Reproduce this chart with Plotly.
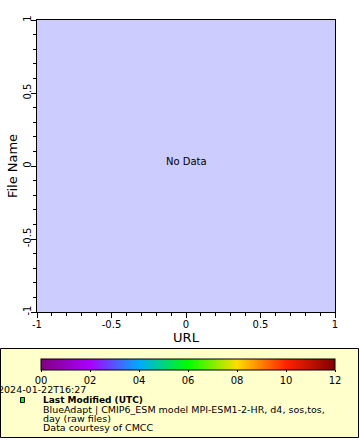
import plotly.graph_objects as go

# ---- data ----
x_range = [-1, 1]
y_range = [-1, 1]
axis_ticks = [-1, -0.5, 0, 0.5, 1]
axis_tick_labels = ["-1", "-0.5", "0", "0.5", "1"]
color_min, color_max = 0, 12
color_ticks = [0, 2, 4, 6, 8, 10, 12]
color_tick_labels = ["00", "02", "04", "06", "08", "10", "12"]
palette_stops = [0, 2, 4, 6, 8, 10, 12]
palette_colors = ["#800080", "#aa00ff", "#00aaff", "#00ff00", "#ffdd00", "#ff2200", "#800000"]
x_title = "URL"
y_title = "File Name"
no_data_text = "No Data"
date_text = "2024-01-22T16:27"
legend_title = "Last Modified (UTC)"
legend_lines = ["BlueAdapt | CMIP6_ESM model MPI-ESM1-2-HR, d4, sos,tos,",
                "day (raw files)",
                "Data courtesy of CMCC"]

W, H = 360, 440
FONT = "DejaVu Sans"

def px(x):
    return x / W

def py(y):
    return 1 - y / H

colorscale = [[(s - color_min) / (color_max - color_min), c] for s, c in zip(palette_stops, palette_colors)]

fig = go.Figure()
fig.add_trace(go.Scatter(
    x=[None], y=[None], mode="markers", showlegend=False, hoverinfo="skip",
    marker=dict(color=[color_min], colorscale=colorscale, cmin=color_min, cmax=color_max,
                showscale=True,
                colorbar=dict(orientation="h", x=px(41), xanchor="left", y=py(358.5), yanchor="top",
                              lenmode="pixels", len=294, thickness=11, thicknessmode="pixels",
                              xpad=0, ypad=0, outlinewidth=1, outlinecolor="black",
                              tickvals=color_ticks, ticktext=color_tick_labels,
                              ticks="outside", ticklen=2, tickcolor="black",
                              tickfont=dict(family=FONT, size=10, color="black"))),
))

fig.update_layout(
    width=W, height=H, margin=dict(l=0, r=0, t=0, b=0, autoexpand=False),
    paper_bgcolor="white", plot_bgcolor="#ccccff",
    font=dict(family=FONT, size=10, color="black"),
    xaxis=dict(domain=[px(37), px(335)], range=x_range, tickvals=axis_ticks, ticktext=axis_tick_labels,
               ticks="outside", ticklen=5, tickcolor="black", showgrid=False, zeroline=False,
               showline=True, linecolor="black", linewidth=1, mirror=True,
               minor=dict(dtick=0.1, ticks="outside", ticklen=3, tickcolor="black", showgrid=False),
               tickfont=dict(family=FONT, size=10), ticklabelstandoff=-2,
               title=dict(text=x_title, font=dict(family=FONT, size=13), standoff=3)),
    yaxis=dict(domain=[py(312), py(20)], range=y_range, tickvals=axis_ticks, ticktext=axis_tick_labels,
               ticks="outside", ticklen=5, tickcolor="black", showgrid=False, zeroline=False,
               showline=True, linecolor="black", linewidth=1, mirror=True, tickangle=-90,
               minor=dict(dtick=0.1, ticks="outside", ticklen=3, tickcolor="black", showgrid=False),
               tickfont=dict(family=FONT, size=10), ticklabelstandoff=-4,
               title=dict(text=y_title, font=dict(family=FONT, size=13), standoff=1)),
)

# legend box
fig.add_shape(type="rect", xref="paper", yref="paper", x0=px(0.5), x1=px(358.5), y0=py(437.5), y1=py(348.5),
              fillcolor="#ffffcc", line=dict(color="black", width=1), layer="below")
# green marker square
fig.add_shape(type="rect", xref="paper", yref="paper", x0=px(20.5), x1=px(24.5), y0=py(402.5), y1=py(397.5),
              fillcolor="#00ff00", line=dict(color="black", width=1))

fig.add_annotation(x=0, y=0, xref="x", yref="y", text=no_data_text, showarrow=False, yshift=4,
                   font=dict(family=FONT, size=10))
fig.add_annotation(x=px(-4), y=py(389), xref="paper", yref="paper", xanchor="left", yanchor="middle",
                   text=date_text, showarrow=False, font=dict(family=FONT, size=9.5))
fig.add_annotation(x=px(41), y=py(400), xref="paper", yref="paper", xanchor="left", yanchor="middle",
                   text="<b>" + legend_title + "</b>", showarrow=False, font=dict(family=FONT, size=9))
for i, line in enumerate(legend_lines):
    fig.add_annotation(x=px(41), y=py(409.5 + 9 * i), xref="paper", yref="paper", xanchor="left",
                       yanchor="middle", text=line, showarrow=False, font=dict(family=FONT, size=9.5))

fig.write_html("out.html")
